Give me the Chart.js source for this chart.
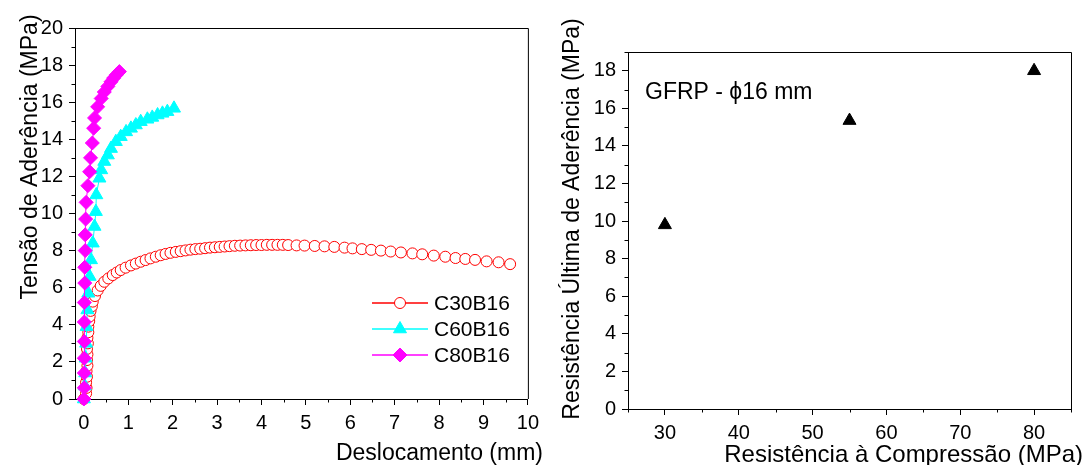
<!DOCTYPE html>
<html>
<head>
    <meta charset="utf-8">
    <title>Tensão de Aderência - GFRP</title>
    <script src="https://cdn.jsdelivr.net/npm/chart.js"></script>
    <style>
        body {
            margin: 0;
            background: #ffffff;
            overflow: hidden;
        }

        .panel {
            position: absolute;
            top: 0;
            height: 465px;
        }

        #leftPanel {
            left: 0;
            width: 545px;
        }

        #rightPanel {
            left: 545px;
            width: 541px;
        }
    </style>
</head>
<body>
<div class="panel" id="leftPanel"><canvas id="slipChart"></canvas></div>
<div class="panel" id="rightPanel"><canvas id="strengthChart"></canvas></div>

<script>
    // ---- data ----
    const c30Slip = [0, 0.05, 0.06, 0.05, 0.07, 0.06, 0.08, 0.07, 0.08, 0.07, 0.09, 0.08, 0.1, 0.1, 0.12, 0.13, 0.15, 0.18, 0.2, 0.25,
        0.31, 0.38, 0.46, 0.55, 0.65, 0.74, 0.83, 0.94, 1.06, 1.17, 1.28, 1.39, 1.5, 1.62, 1.73, 1.84, 1.95, 2.07, 2.18, 2.29,
        2.4, 2.51, 2.62, 2.73, 2.84, 2.95, 3.06, 3.17, 3.28, 3.4, 3.52, 3.64, 3.76, 3.88, 4.0, 4.12, 4.24, 4.36, 4.48, 4.6,
        4.79, 4.97, 5.2, 5.42, 5.64, 5.87, 6.05, 6.26, 6.47, 6.69, 6.91, 7.14, 7.4, 7.62, 7.88, 8.14, 8.37, 8.59, 8.81, 9.07,
        9.34, 9.6];
    const c30Stress = [0, 0.3, 0.6, 0.9, 1.2, 1.5, 1.8, 2.1, 2.4, 2.7, 3.0, 3.3, 3.6, 3.9, 4.2, 4.45, 4.75, 5.0, 5.25, 5.55,
        5.85, 6.1, 6.32, 6.5, 6.68, 6.82, 6.95, 7.08, 7.2, 7.3, 7.4, 7.49, 7.58, 7.67, 7.75, 7.82, 7.88, 7.93, 7.97, 8.01,
        8.05, 8.08, 8.1, 8.13, 8.16, 8.18, 8.2, 8.22, 8.24, 8.26, 8.27, 8.28, 8.29, 8.3, 8.3, 8.31, 8.31, 8.31, 8.31, 8.3,
        8.28, 8.27, 8.25, 8.23, 8.2, 8.16, 8.12, 8.08, 8.04, 8.0, 7.95, 7.9, 7.85, 7.8, 7.73, 7.67, 7.6, 7.55, 7.5, 7.42,
        7.37, 7.27];

    const c60Slip = [0, 0.02, 0.03, 0.04, 0.05, 0.06, 0.08, 0.1, 0.13, 0.16, 0.2, 0.24, 0.27, 0.28, 0.35, 0.39, 0.46, 0.54,
        0.61, 0.72, 0.83, 0.95, 1.06, 1.17, 1.28, 1.43, 1.54, 1.66, 1.77, 1.88, 2.03];
    const c60Stress = [0, 0.7, 1.4, 2.2, 3.0, 3.9, 4.8, 5.7, 6.6, 7.5, 8.4, 9.3, 10.1, 11.0, 11.9, 12.35, 12.8, 13.15,
        13.5, 13.87, 14.14, 14.4, 14.59, 14.77, 14.95, 15.08, 15.18, 15.31, 15.4, 15.49, 15.67];

    const c80Slip = [0, 0.01, 0.01, 0.01, 0.01, 0.01, 0.01, 0.02, 0.02, 0.03, 0.03, 0.04, 0.05, 0.09, 0.13, 0.15, 0.19,
        0.22, 0.24, 0.31, 0.39, 0.46, 0.54, 0.61, 0.67, 0.73, 0.8];
    const c80Stress = [0, 0.6, 1.4, 2.2, 3.1, 4.15, 5.2, 6.25, 7.1, 8.0, 8.85, 9.7, 10.6, 11.5, 12.25, 13.0, 13.8,
        14.6, 15.15, 15.75, 16.2, 16.55, 16.85, 17.1, 17.3, 17.47, 17.65];

    const compStrength = [30, 55, 80];
    const bondStrength = [9.8, 15.35, 18.0];

    const seriesNames = ['C30B16', 'C60B16', 'C80B16'];

    // tick values shown on each axis
    const slipTicks = [0, 1, 2, 3, 4, 5, 6, 7, 8, 9, 10];
    const stressTicks = [0, 2, 4, 6, 8, 10, 12, 14, 16, 18, 20];
    const compTicks = [30, 40, 50, 60, 70, 80];
    const bondTicks = [0, 2, 4, 6, 8, 10, 12, 14, 16, 18];

    // ---- shared bits ----
    const FONT = "'Liberation Sans', Arial, sans-serif";
    const pairs = (xs, ys) => xs.map((x, i) => ({x: x, y: ys[i]}));

    function axisStyle(min, max, tickValues, fit) {
        return {
            type: 'linear',
            min: min,
            max: max,
            grid: {display: true, drawOnChartArea: false, drawTicks: true, tickLength: 6, color: '#000'},
            border: {display: true, color: '#000', width: 1},
            ticks: {color: '#000', font: {family: FONT, size: 20}, padding: 6, maxRotation: 0, autoSkip: false},
            afterBuildTicks: s => { s.ticks = tickValues.map(v => ({value: v})); },
            afterFit: fit
        };
    }

    function drawMarker(ctx, style, x, y, r, fill, stroke) {
        ctx.beginPath();
        if (style === 'circle') {
            ctx.arc(x, y, r, 0, Math.PI * 2);
        } else if (style === 'triangle') {
            ctx.moveTo(x, y - r);
            ctx.lineTo(x + r * Math.sin(Math.PI * 2 / 3), y - r * Math.cos(Math.PI * 2 / 3));
            ctx.lineTo(x + r * Math.sin(Math.PI * 4 / 3), y - r * Math.cos(Math.PI * 4 / 3));
        } else {
            ctx.moveTo(x, y - r);
            ctx.lineTo(x + r, y);
            ctx.lineTo(x, y + r);
            ctx.lineTo(x - r, y);
        }
        ctx.closePath();
        ctx.fillStyle = fill;
        ctx.fill();
        ctx.strokeStyle = stroke;
        ctx.lineWidth = 1;
        ctx.stroke();
    }

    // box frame + minor ticks
    const frameAndTicks = {
        id: 'frameAndTicks',
        afterDraw(chart, args, opts) {
            const ctx = chart.ctx;
            const a = chart.chartArea;
            const xs = chart.scales.x, ys = chart.scales.y;
            ctx.save();
            ctx.strokeStyle = '#000';
            ctx.lineWidth = 1;
            ctx.beginPath();
            ctx.moveTo(a.left, a.top + 0.5);
            ctx.lineTo(a.right + 0.5, a.top + 0.5);
            ctx.lineTo(a.right + 0.5, a.bottom);
            ctx.stroke();

            ctx.beginPath();
            for (let v = Math.ceil(xs.min / opts.xMinor) * opts.xMinor; v <= xs.max + 1e-9; v += opts.xMinor) {
                if (Math.abs(v / opts.xMajor - Math.round(v / opts.xMajor)) < 1e-6) continue;
                const px = Math.round(xs.getPixelForValue(v)) + 0.5;
                ctx.moveTo(px, a.bottom);
                ctx.lineTo(px, a.bottom + 3.5);
            }
            for (let v = Math.ceil(ys.min / opts.yMinor) * opts.yMinor; v <= ys.max + 1e-9; v += opts.yMinor) {
                if (Math.abs(v / opts.yMajor - Math.round(v / opts.yMajor)) < 1e-6) continue;
                const py = Math.round(ys.getPixelForValue(v)) + 0.5;
                ctx.moveTo(a.left, py);
                ctx.lineTo(a.left - 3.5, py);
            }
            ctx.stroke();
            ctx.restore();
        }
    };

    // axis titles and free labels
    const freeText = {
        id: 'freeText',
        afterDraw(chart, args, opts) {
            const ctx = chart.ctx;
            (opts.items || []).forEach(t => {
                ctx.save();
                ctx.translate(t.x, t.y);
                if (t.angle) ctx.rotate(t.angle);
                ctx.font = (t.size || 23) + 'px ' + FONT;
                ctx.fillStyle = '#000';
                ctx.textAlign = t.align || 'left';
                ctx.textBaseline = 'alphabetic';
                ctx.fillText(t.text, 0, 0);
                ctx.restore();
            });
        }
    };

    // legend with line + marker like the original
    const lineLegend = {
        id: 'lineLegend',
        afterDraw(chart, args, opts) {
            const ctx = chart.ctx;
            ctx.save();
            chart.data.datasets.forEach((ds, i) => {
                const y = opts.top + i * opts.rowHeight;
                ctx.strokeStyle = ds.borderColor;
                ctx.lineWidth = 1.5;
                ctx.beginPath();
                ctx.moveTo(opts.left, y);
                ctx.lineTo(opts.left + opts.lineLength, y);
                ctx.stroke();
                drawMarker(ctx, ds.pointStyle, opts.left + opts.lineLength / 2, y, ds.pointRadius,
                    ds.pointBackgroundColor, ds.pointBorderColor);
                ctx.font = '21px ' + FONT;
                ctx.fillStyle = '#000';
                ctx.textAlign = 'left';
                ctx.textBaseline = 'middle';
                ctx.fillText(ds.label, opts.left + opts.lineLength + 6, y + 1);
            });
            ctx.restore();
        }
    };

    function lineSeries(label, xs, ys, color, style, radius, fill, order) {
        return {
            label: label,
            data: pairs(xs, ys),
            showLine: true,
            borderColor: color,
            borderWidth: 1,
            pointStyle: style,
            pointRadius: radius,
            pointHoverRadius: radius,
            pointBackgroundColor: fill,
            pointBorderColor: color,
            pointBorderWidth: 1,
            clip: false,
            order: order
        };
    }

    // ---- left: stress vs slip ----
    new Chart(document.getElementById('slipChart'), {
        type: 'scatter',
        data: {
            datasets: [
                lineSeries(seriesNames[0], c30Slip, c30Stress, '#ff0000', 'circle', 5.5, '#ffffff', 3),
                lineSeries(seriesNames[1], c60Slip, c60Stress, '#00ffff', 'triangle', 7.5, '#00ffff', 2),
                lineSeries(seriesNames[2], c80Slip, c80Stress, '#ff00ff', 'rectRot', 7, '#ff00ff', 1)
            ]
        },
        options: {
            responsive: true,
            maintainAspectRatio: false,
            animation: false,
            layout: {padding: {top: 28, right: 15, left: 0, bottom: 0}},
            scales: {
                x: axisStyle(-0.2, 10, slipTicks, s => { s.height = 66; }),
                y: axisStyle(0, 20, stressTicks, s => { s.width = 75; })
            },
            plugins: {
                legend: {display: false},
                tooltip: {enabled: false},
                frameAndTicks: {xMinor: 0.5, xMajor: 1, yMinor: 1, yMajor: 2},
                lineLegend: {left: 372, top: 303, rowHeight: 26, lineLength: 56},
                freeText: {
                    items: [
                        {text: 'Deslocamento (mm)', x: 543, y: 460, align: 'right'},
                        {text: 'Tensão de Aderência (MPa)', x: 37, y: 157, angle: -Math.PI / 2, align: 'center'}
                    ]
                }
            }
        },
        plugins: [frameAndTicks, lineLegend, freeText]
    });

    // ---- right: ultimate bond strength vs compressive strength ----
    new Chart(document.getElementById('strengthChart'), {
        type: 'scatter',
        data: {
            datasets: [{
                label: 'GFRP - ϕ16 mm',
                data: pairs(compStrength, bondStrength),
                pointStyle: 'triangle',
                pointRadius: 7.5,
                pointHoverRadius: 7.5,
                pointBackgroundColor: '#000',
                pointBorderColor: '#000',
                clip: false
            }]
        },
        options: {
            responsive: true,
            maintainAspectRatio: false,
            animation: false,
            layout: {padding: {top: 52, right: 15, left: 0, bottom: 0}},
            scales: {
                x: axisStyle(25, 85, compTicks, s => { s.height = 56; }),
                y: axisStyle(0, 19, bondTicks, s => { s.width = 83; })
            },
            plugins: {
                legend: {display: false},
                tooltip: {enabled: false},
                frameAndTicks: {xMinor: 5, xMajor: 10, yMinor: 1, yMajor: 2},
                freeText: {
                    items: [
                        {text: 'GFRP - ϕ16 mm', x: 100, y: 99, align: 'left'},
                        {text: 'Resistência à Compressão (MPa)', x: 538, y: 462, align: 'right', size: 24},
                        {text: 'Resistência Última de Aderência (MPa)', x: 34, y: 219, angle: -Math.PI / 2, align: 'center'}
                    ]
                }
            }
        },
        plugins: [frameAndTicks, freeText]
    });
</script>
</body>
</html>
